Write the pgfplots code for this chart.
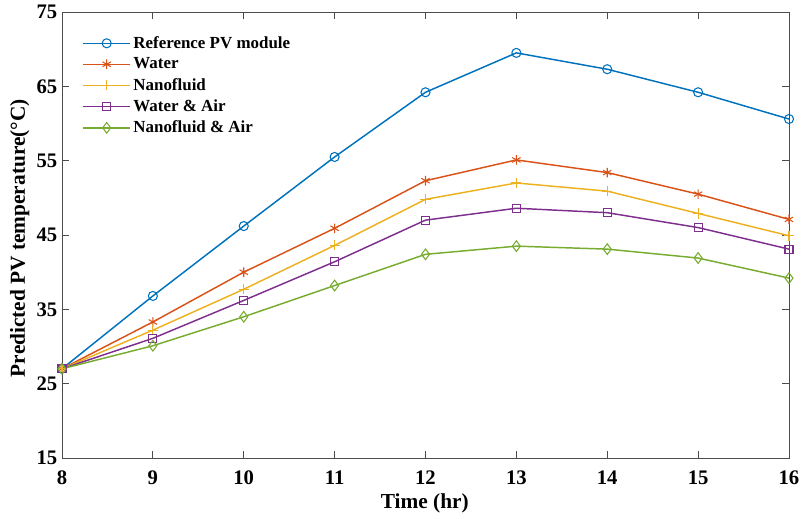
\documentclass[border=0pt]{standalone}
\usepackage{pgfplots}
\pgfplotsset{compat=1.18}
\usepackage{fontspec}
\setmainfont{Liberation Serif}

\definecolor{mblue}{rgb}{0,0.447,0.741}
\definecolor{morange}{rgb}{0.85,0.325,0.098}
\definecolor{myellow}{rgb}{0.929,0.694,0.125}
\definecolor{mpurple}{rgb}{0.494,0.184,0.556}
\definecolor{mgreen}{rgb}{0.466,0.674,0.188}

\begin{document}
\begin{tikzpicture}
% fix the page to the reference proportions (1px = 0.75pt)
\path[use as bounding box] (-46.5pt,-45pt) rectangle (555pt,343.5pt);
\begin{axis}[
    at={(0,0)}, anchor=south west,
    scale only axis,
    width=545.25pt, height=334.5pt,
    xmin=8, xmax=16,
    ymin=15, ymax=75,
    xtick={8,...,16},
    ytick={15,25,35,45,55,65,75},
    tick align=inside,
    major tick length=5pt,
    axis line style={draw=black!70, line width=0.6pt},
    tick style={draw=black!70, line width=0.6pt},
    /pgf/number format/assume math mode=true,
    ticklabel style={font=\fontsize{15.5}{15.5}\selectfont\bfseries},
    xticklabel style={anchor=center, yshift=-15pt},
    xlabel={Time (hr)},
    ylabel={Predicted PV temperature(°C)},
    label style={font=\fontsize{16}{16}\selectfont\bfseries},
    xlabel style={at={(axis description cs:0.499,-0.101)}, anchor=center},
    ylabel style={at={(axis description cs:-0.058,0.493)}, anchor=center},
    every axis plot/.append style={line width=1.1pt},
    mark options={solid, line width=0.8pt},
    legend cell align=left,
    legend style={draw=none, fill=none, at={(0.028,0.952)}, anchor=north west,
        font=\fontsize{12.7}{12.7}\selectfont\bfseries, row sep=1.6pt, inner sep=0pt,
        nodes={inner xsep=2pt}},
    legend image code/.code={\draw[mark repeat=2,mark phase=2,#1] plot coordinates {(0pt,0pt) (17.5pt,0pt) (35pt,0pt)};},
]
\addplot[color=mblue, mark=o, mark size=3.4pt] coordinates {
(8,27.0) (9,36.8) (10,46.2) (11,55.5) (12,64.2) (13,69.5) (14,67.3) (15,64.2) (16,60.6)};
\addlegendentry{Reference PV module}
\addplot[color=morange, mark=asterisk, mark size=3.6pt] coordinates {
(8,27.0) (9,33.3) (10,40.0) (11,45.9) (12,52.3) (13,55.1) (14,53.4) (15,50.5) (16,47.1)};
\addlegendentry{Water}
\addplot[color=myellow, mark=+, mark size=3.8pt] coordinates {
(8,27.0) (9,32.2) (10,37.7) (11,43.6) (12,49.8) (13,52.0) (14,50.9) (15,47.9) (16,44.9)};
\addlegendentry{Nanofluid}
\addplot[color=mpurple, mark=square, mark size=3pt] coordinates {
(8,27.0) (9,31.1) (10,36.2) (11,41.4) (12,47.0) (13,48.6) (14,48.0) (15,46.0) (16,43.1)};
\addlegendentry{Water \& Air}
\addplot[color=mgreen, mark=diamond, mark size=4pt] coordinates {
(8,27.0) (9,30.1) (10,34.0) (11,38.2) (12,42.4) (13,43.5) (14,43.1) (15,41.9) (16,39.2)};
\addlegendentry{Nanofluid \& Air}
\end{axis}
\end{tikzpicture}
\end{document}
